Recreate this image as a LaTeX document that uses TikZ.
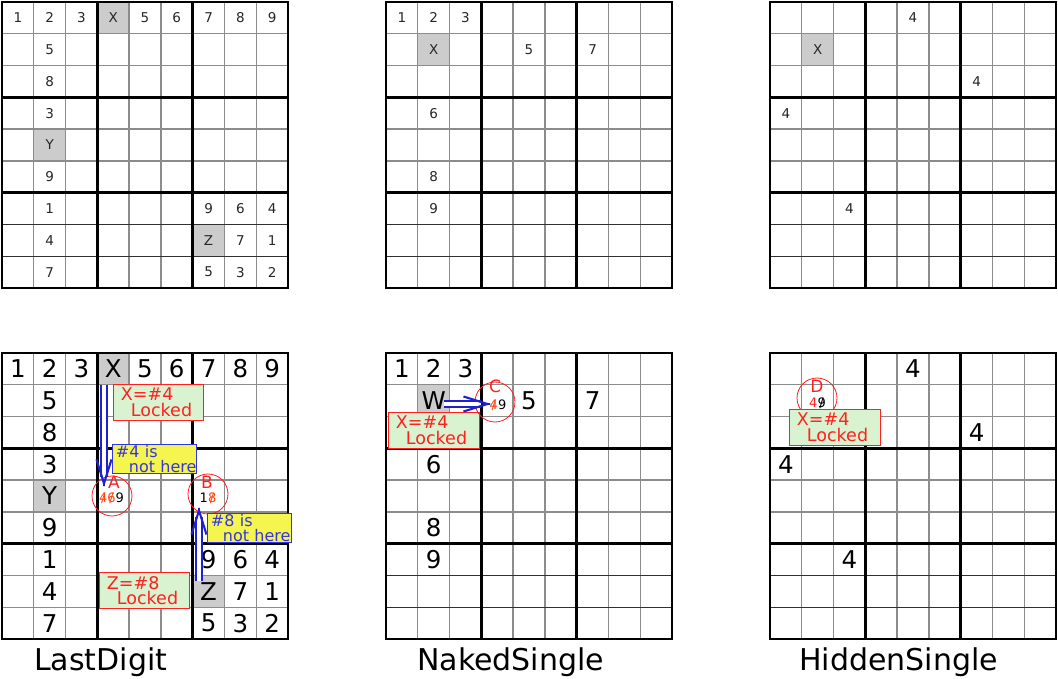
\documentclass[tikz,border=0pt]{standalone}
\usepackage{fontspec}
\setmainfont{DejaVu Sans}
\usetikzlibrary{arrows.meta,calc}
\definecolor{gridgray}{HTML}{8C8C8C}
\definecolor{darkline}{HTML}{303030}
\definecolor{cellgray}{HTML}{CCCCCC}
\definecolor{lockfill}{HTML}{D9F2D0}
\definecolor{lockred}{HTML}{FF2020}
\definecolor{notfill}{HTML}{F5F550}
\definecolor{notblue}{HTML}{3535E0}
\definecolor{arrblue}{HTML}{2020D0}
\definecolor{strikeor}{HTML}{FF4510}
\newcommand\fsz[2]{\fontsize{#1}{#2}\selectfont}
\newcommand\stk[2]{\textcolor{#1}{\ooalign{#2\cr\hidewidth/\hidewidth}}}
\newcommand\sgrid[3]{%
\begin{scope}[shift={(#1,#2)},x=31.78pt,y=-31.78pt]
 \foreach \i in {1,2,4,5,7,8} \draw[thinl] (\i,0) -- (\i,9);
 \foreach \i in {1,2,4,5} \draw[thinl] (0,\i) -- (9,\i);
 \foreach \i in {7,8} \draw[thinl,draw=#3] (0,\i) -- (9,\i);
 \foreach \i in {3,6} {\draw[thickl] (\i,0) -- (\i,9); \draw[thickl] (0,\i) -- (9,\i);}
 \draw[thickl] (0,0) rectangle (9,9);
\end{scope}}
\newcommand\gcell[4]{\fill[cellgray] ({#1+(#4-1)*31.78},{#2+(#3-1)*31.78}) rectangle +(31.78,31.78);}
\newcommand\putdigits[5]{%
\begin{scope}[shift={(#1,#2)},x=31.78pt,y=-31.78pt]
 \foreach \r/\c/\v in {#5} \node[#3] (#4\r\c) at ({\c-0.5},{\r-0.5}) {\v};
\end{scope}}
% double-line arrow from #1 to #2
\newcommand\dblarrow[2]{%
 \draw[dblline] (#1) -- ($(#2)!10pt!(#1)$);
 \draw[barb] ($(#2)!1pt!(#1)$) -- (#2);}
\begin{document}
\begin{tikzpicture}[x=1pt,y=-1pt,
  thinl/.style={draw=gridgray,line width=1.4pt},
  thickl/.style={draw=black,line width=2.6pt},
  smalld/.style={font=\fsz{13.5}{13.5},inner sep=0pt,text=black!85},
  bigd/.style={font=\fsz{24.5}{24.5},inner sep=0pt},
  title/.style={font=\fsz{30}{30},inner sep=0pt,anchor=base west},
  lockbox/.style={draw=lockred,line width=0.9pt,fill=lockfill,text=lockred,
     font=\fsz{17.5}{15.5},align=left,anchor=north west,inner xsep=7.5pt,inner ysep=0pt},
  notbox/.style={draw=notblue,line width=0.9pt,fill=notfill,text=notblue,
     font=\fsz{16}{14.5},align=left,anchor=north west,inner xsep=3.5pt,inner ysep=0pt},
  ring/.style={circle,draw=lockred,line width=0.8pt,minimum size=40pt,inner sep=0pt},
  ringlab/.style={text=lockred,font=\fsz{17}{17},inner sep=0pt},
  ringdig/.style={font=\fsz{13}{13},inner sep=0pt},
  dblline/.style={draw=arrblue,line width=2.1pt,double=white,double distance=3.8pt},
  barb/.style={draw=arrblue,line width=2.1pt,-{Straight Barb[length=24pt,width=15pt]}}]
\useasboundingbox (0,0) rectangle (1058,679);
% ---------- gray cells ----------
\gcell{2}{2}{1}{4}\gcell{2}{2}{5}{2}\gcell{2}{2}{8}{7}
\gcell{2}{353}{1}{4}\gcell{2}{353}{5}{2}\gcell{2}{353}{8}{7}
\gcell{386}{2}{2}{2}\gcell{386}{353}{2}{2}
\gcell{770}{2}{2}{2}
% ---------- grids ----------
\sgrid{2}{2}{darkline}
\sgrid{386}{2}{darkline}
\sgrid{770}{2}{darkline}
\sgrid{2}{353}{gridgray}
\sgrid{386}{353}{darkline}
\sgrid{770}{353}{darkline}
% ---------- digits ----------
\putdigits{2}{2}{smalld}{tl}{1/1/1,1/2/2,1/3/3,1/4/X,1/5/5,1/6/6,1/7/7,1/8/8,1/9/9,2/2/5,3/2/8,4/2/3,5/2/Y,6/2/9,7/2/1,8/2/4,9/2/7,7/7/9,7/8/6,7/9/4,8/7/Z,8/8/7,8/9/1,9/7/5,9/8/3,9/9/2}
\putdigits{2}{353}{bigd}{bl}{1/1/1,1/2/2,1/3/3,1/4/X,1/5/5,1/6/6,1/7/7,1/8/8,1/9/9,2/2/5,3/2/8,4/2/3,5/2/Y,6/2/9,7/2/1,8/2/4,9/2/7,7/7/9,7/8/6,7/9/4,8/7/Z,8/8/7,8/9/1,9/7/5,9/8/3,9/9/2}
\putdigits{386}{2}{smalld}{tm}{1/1/1,1/2/2,1/3/3,2/2/X,2/5/5,2/7/7,4/2/6,6/2/8,7/2/9}
\putdigits{386}{353}{bigd}{bm}{1/1/1,1/2/2,1/3/3,2/2/W,2/5/5,2/7/7,4/2/6,6/2/8,7/2/9}
\putdigits{770}{2}{smalld}{tr}{1/5/4,2/2/X,3/7/4,4/1/4,7/3/4}
\putdigits{770}{353}{bigd}{br}{1/5/4,3/7/4,4/1/4,7/3/4}
% ---------- titles ----------
\node[title] (t1) at (34,670) {LastDigit};
\node[title] (t2) at (417,670) {NakedSingle};
\node[title] (t3) at (799,670) {HiddenSingle};
% ---------- LastDigit overlays ----------
\node[ring] (cA) at (112,496) {};
\node[ringlab] (lA) at (114,482) {A};
\node[ringdig] (dA) at (111.5,498) {\stk{strikeor}{4}\stk{strikeor}{6}9};
\node[ring] (cB) at (208,494) {};
\node[ringlab] (lB) at (207,482) {B};
\node[ringdig] (dB) at (208,498) {1\stk{strikeor}{8}};
\coordinate (aXs) at (104,385);
\coordinate (aXe) at (104,487);
\coordinate (aZs) at (199,581);
\coordinate (aZe) at (199,507);
\dblarrow{aXs}{aXe}
\dblarrow{aZs}{aZe}
\node[lockbox,text width=75pt,minimum height=36pt] (bX) at (113,384) {X=\#4\\\hspace*{10pt}Locked};
\node[notbox,text width=77pt,minimum height=29pt] (b4) at (112,444) {\#4 is\\\hspace*{13pt}\mbox{not here}};
\node[notbox,text width=77pt,minimum height=29pt] (b8) at (207,513) {\#8 is\\\hspace*{12pt}\mbox{not here}};
\node[lockbox,text width=75pt,minimum height=36pt] (bZ) at (99,572) {Z=\#8\\\hspace*{10pt}Locked};
% ---------- NakedSingle overlays ----------
\node[lockbox,text width=76pt,minimum height=36pt] (bW) at (388,412) {X=\#4\\\hspace*{10pt}Locked};
\node[ring] (cC) at (495,402) {};
\node[ringlab] (lC) at (495,386) {C};
\node[ringdig] (dC) at (498,405) {\stk{strikeor}{4}9};
\coordinate (aWs) at (444,404);
\coordinate (aWe) at (491,404);
\dblarrow{aWs}{aWe}
% ---------- HiddenSingle overlays ----------
\node[ring] (cD) at (817,398) {};
\node[ringlab] (lD) at (817,386) {D};
\node[ringdig] (dD) at (817.5,403) {\textcolor{lockred}{4}\stk{black}{9}};
\node[lockbox,text width=76pt,minimum height=36pt] (bD) at (789,409) {X=\#4\\\hspace*{10pt}Locked};
\end{tikzpicture}
\end{document}
